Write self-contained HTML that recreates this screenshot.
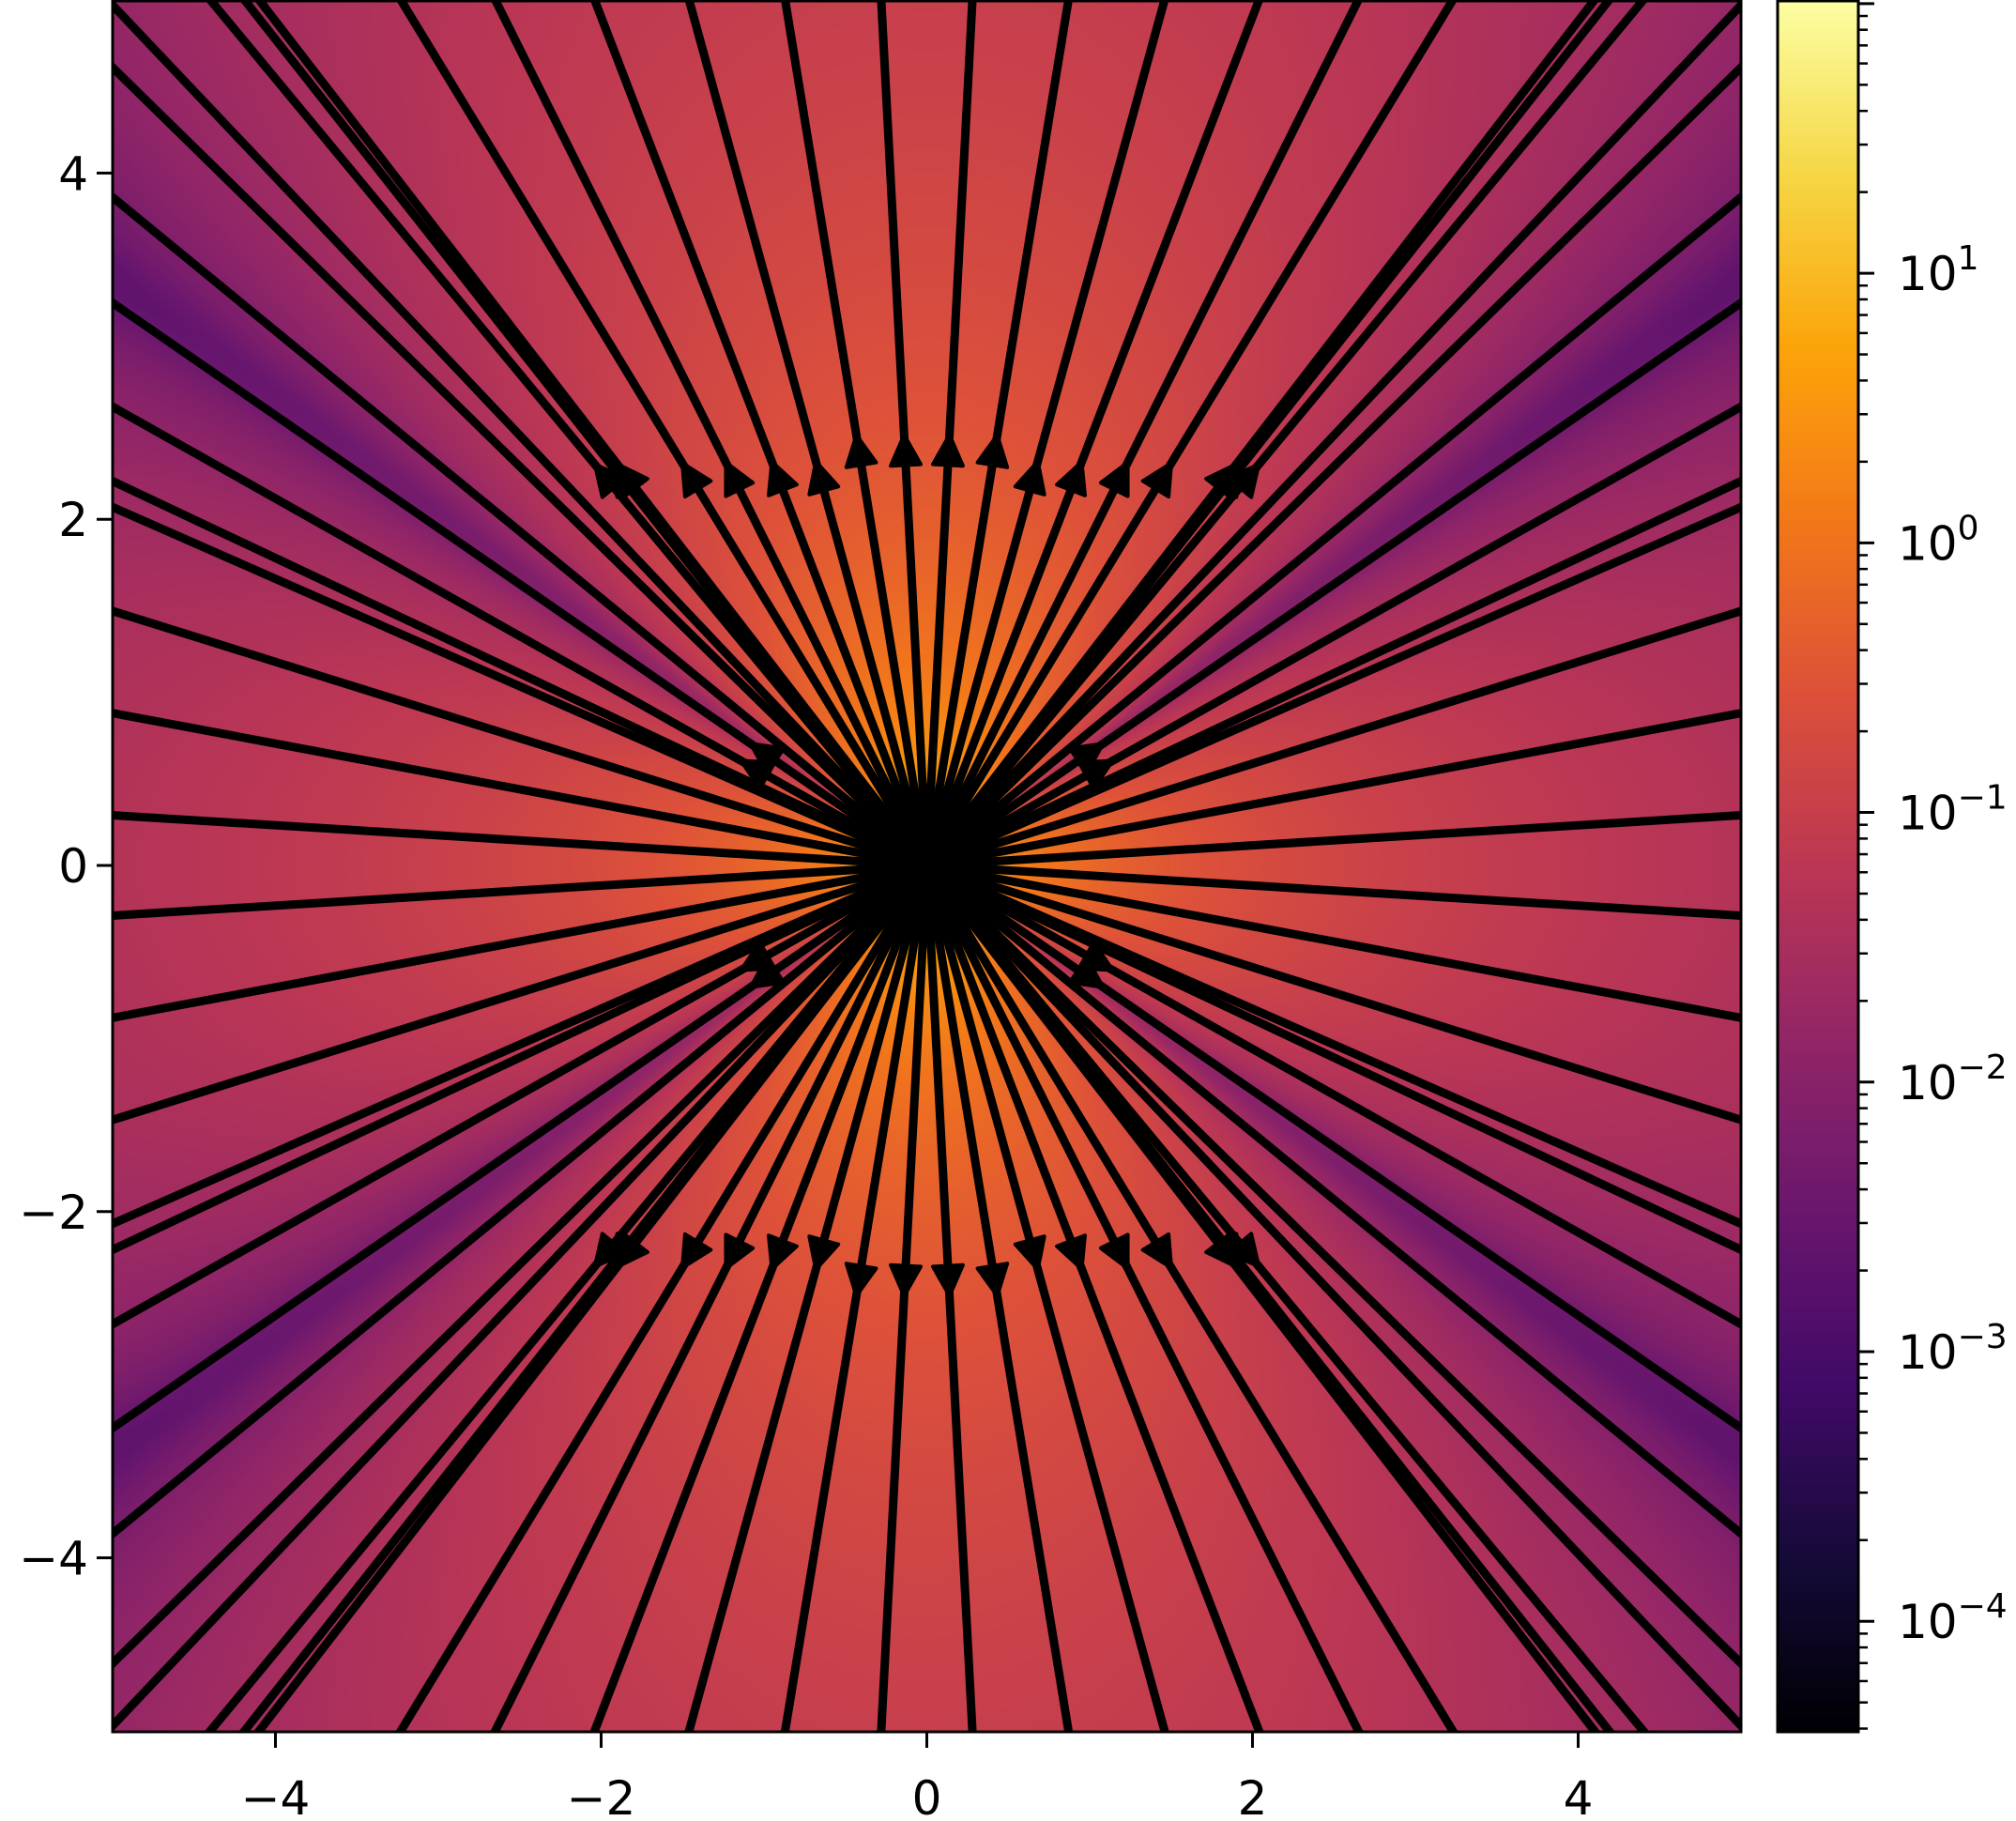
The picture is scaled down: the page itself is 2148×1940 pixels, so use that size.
<!DOCTYPE html>
<html><head><meta charset="utf-8"><style>
body{margin:0;background:#fff;width:2148px;height:1940px;overflow:hidden;font-family:"DejaVu Sans","Liberation Sans",sans-serif;}
#wrap{position:relative;width:2148px;height:1940px;}
canvas{position:absolute;}
svg{position:absolute;left:0;top:0;}
</style></head><body>
<div id="wrap">
<canvas id="field" width="1735" height="1844" style="left:120px;top:1px"></canvas>
<canvas id="cbar" width="86" height="1844" style="left:1894px;top:1px"></canvas>
<svg id="ov" width="2148" height="1940"></svg>
</div>
<script>
// data
const topEdgeX = [0.28,0.87,1.46,2.04,2.65,3.23,4.10,4.19,4.40];
const rightEdgeY = [0.29,0.88,1.47,2.07,2.22,2.65,3.25,3.86,4.61,4.97];
const xTicks = [-4,-2,0,2,4];
const yTicks = [-4,-2,0,2,4];
const cbarDecades = [-4,-3,-2,-1,0,1];
const cbarRange = [-4.41, 2.01];
const zeroLineK = [0.46];
const decayExp = [1.65];

const NS="http://www.w3.org/2000/svg";
const L=120,R=1855,T=1,B=1845;
const sx=x=>987.5+x*173.5;
const sy=y=>922-y*184.4;
const inferno=[[0,0,0,4],[0.1,22,11,57],[0.2,66,10,104],[0.3,106,23,110],[0.4,147,38,103],[0.5,188,55,84],[0.6,221,81,58],[0.7,243,120,25],[0.8,252,165,10],[0.9,246,215,70],[1,252,255,164]];
function cmap(t){t=Math.max(0,Math.min(1,t));for(let i=1;i<inferno.length;i++){if(t<=inferno[i][0]){const a=inferno[i-1],b=inferno[i],f=(t-a[0])/(b[0]-a[0]);return [a[1]+f*(b[1]-a[1]),a[2]+f*(b[2]-a[2]),a[3]+f*(b[3]-a[3])];}}return inferno[inferno.length-1].slice(1);}
function mag(x,y){const r2=x*x+y*y+1e-6,r=Math.sqrt(r2);const k=zeroLineK[0];const gz=(y*y-k*x*x)/r2;const g=Math.sqrt(gz*gz+0.0009);return 0.1*Math.pow(r/5,-decayExp[0])*g;}
// field
(function(){const c=document.getElementById('field'),ctx=c.getContext('2d');const W=c.width,H=c.height;const im=ctx.createImageData(W,H);
for(let j=0;j<H;j++){const y=(922-(j+1))/184.4;for(let i=0;i<W;i++){const x=(i+120-987.5)/173.5;const t=(Math.log10(mag(x,y))-cbarRange[0])/(cbarRange[1]-cbarRange[0]);const c3=cmap(t);const p=(j*W+i)*4;im.data[p]=c3[0];im.data[p+1]=c3[1];im.data[p+2]=c3[2];im.data[p+3]=255;}}
ctx.putImageData(im,0,0);})();
(function(){const c=document.getElementById('cbar'),ctx=c.getContext('2d');for(let j=0;j<c.height;j++){const t=1-j/(c.height-1);const c3=cmap(t);ctx.fillStyle=`rgb(${c3[0]|0},${c3[1]|0},${c3[2]|0})`;ctx.fillRect(0,j,c.width,1);}})();
const ov=document.getElementById('ov');
function el(tag,attrs){const e=document.createElementNS(NS,tag);for(const k in attrs)e.setAttribute(k,attrs[k]);ov.appendChild(e);return e;}
// clip
const defs=el('defs',{});const cp=document.createElementNS(NS,'clipPath');cp.setAttribute('id','pc');const cr=document.createElementNS(NS,'rect');cr.setAttribute('x',L);cr.setAttribute('y',T);cr.setAttribute('width',R-L);cr.setAttribute('height',B-T);cp.appendChild(cr);defs.appendChild(cp);
const g=el('g',{'clip-path':'url(#pc)'});


const ends=[];
topEdgeX.forEach(x=>{[1,-1].forEach(sx_=>[1,-1].forEach(sy_=>ends.push({x:sx_*x,y:sy_*5,top:true})));});
rightEdgeY.forEach(y=>{[1,-1].forEach(sx_=>[1,-1].forEach(sy_=>ends.push({x:sx_*5,y:sy_*y,top:false,v:y})));});
function arrow(x,y,dx,dy){const px=sx(x),py=sy(y);const ux=sx(x+dx)-px,uy=sy(y+dy)-py;const n=Math.hypot(ux,uy);const ax=ux/n,ay=uy/n;const Ln=32,Wd=16;
const p=[[px+ax*Ln/2,py+ay*Ln/2],[px-ax*Ln/2-ay*Wd,py-ay*Ln/2+ax*Wd],[px-ax*Ln/2+ay*Wd,py-ay*Ln/2-ax*Wd]];
const a=document.createElementNS(NS,'polygon');a.setAttribute('points',p.map(q=>q.join(',')).join(' '));a.setAttribute('fill','#000');a.setAttribute('stroke','#000');a.setAttribute('stroke-width','4');a.setAttribute('stroke-linejoin','round');


g.appendChild(a);}
ends.forEach(e=>{const ln=document.createElementNS(NS,'line');ln.setAttribute('x1',sx(0));ln.setAttribute('y1',sy(0));ln.setAttribute('x2',sx(e.x*1.05));ln.setAttribute('y2',sy(e.y*1.05));ln.setAttribute('stroke','#000');ln.setAttribute('stroke-width','9');


g.appendChild(ln);
const r=Math.hypot(e.x,e.y);
if(e.top){const yy=Math.abs(e.x)>1.2?2.25:2.4;const s=yy/Math.abs(e.y);arrow(e.x*s,e.y*s,e.x,e.y);}
else if(e.v===3.25||e.v===2.65){const s=1.2/r;arrow(e.x*s,e.y*s,e.x,e.y);}
});
el('circle',{cx:sx(0),cy:sy(0),r:55,fill:'#000'});
// axes frame
const fr=el('rect',{x:L,y:T,width:R-L,height:B-T,fill:'none',stroke:'#000','stroke-width':3});

xTicks.forEach(v=>{el('line',{x1:sx(v),x2:sx(v),y1:B,y2:B+17,stroke:'#000','stroke-width':3});const tx=el('text',{x:sx(v),y:1933,'font-size':50,'text-anchor':'middle','font-family':'DejaVu Sans, Liberation Sans, sans-serif'});tx.textContent=(v<0?'\u2212':'')+Math.abs(v);

});
yTicks.forEach(v=>{el('line',{x1:L-17,x2:L,y1:sy(v),y2:sy(v),stroke:'#000','stroke-width':3});const tx=el('text',{x:94,y:sy(v)+18,'font-size':50,'text-anchor':'end','font-family':'DejaVu Sans, Liberation Sans, sans-serif'});tx.textContent=(v<0?'\u2212':'')+Math.abs(v);

});
// colorbar
const CL=1894,CR=1980;
const cy=v=>B-(v-cbarRange[0])/(cbarRange[1]-cbarRange[0])*(B-T);
const cf=el('rect',{x:CL,y:T,width:CR-CL,height:B-T,fill:'none',stroke:'#000','stroke-width':3});

for(let d=-5;d<=2;d++){for(let m=1;m<10;m++){const v=d+Math.log10(m);if(v<cbarRange[0]||v>cbarRange[1])continue;const major=m===1;el('line',{x1:CR,x2:CR+(major?17:10),y1:cy(v),y2:cy(v),stroke:'#000','stroke-width':major?3:2.5});}}
cbarDecades.forEach(d=>{const tx=el('text',{x:2022,y:cy(d)+18,'font-size':50,'font-family':'DejaVu Sans, Liberation Sans, sans-serif'});tx.textContent='10';const ts=document.createElementNS(NS,'tspan');ts.setAttribute('dy','-22');ts.setAttribute('font-size','36');ts.textContent=(d<0?'\u2212':'')+Math.abs(d);tx.appendChild(ts);

});
</script>
</body></html>
